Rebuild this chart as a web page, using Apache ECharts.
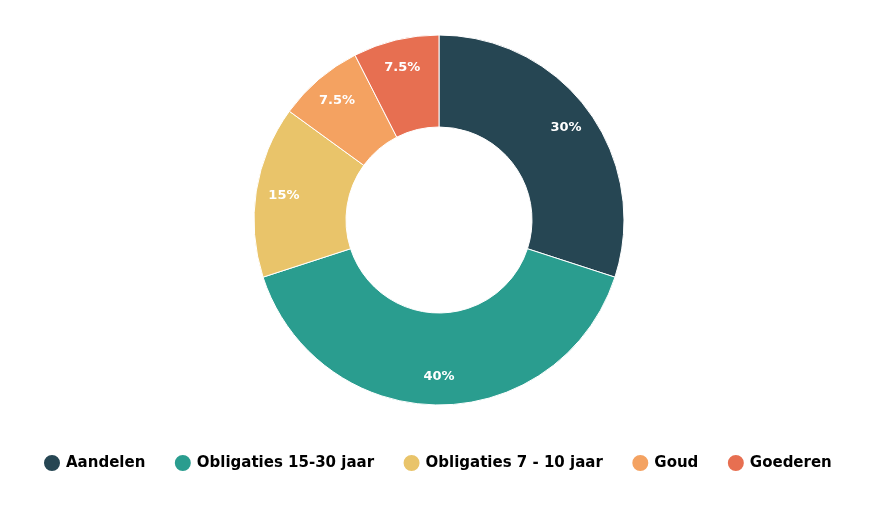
<!DOCTYPE html>
<html><head><meta charset="utf-8">
<script src="https://cdn.jsdelivr.net/npm/echarts@6/dist/echarts.min.js"></script>
<style>html,body{margin:0;padding:0;background:#fff}#c{width:885px;height:508px}</style>
</head><body><div id="c"></div>
<script>
const categories = ['Aandelen', 'Obligaties 15-30 jaar', 'Obligaties 7 - 10 jaar', 'Goud', 'Goederen'];
const values = [30, 40, 15, 7.5, 7.5];
const colors = ['#264653', '#2a9d8f', '#e9c46a', '#f4a261', '#e76f51'];
const FONT = 'DejaVu Sans';

const data = categories.map((n, i) => ({ name: n, value: values[i], itemStyle: { color: colors[i] } }));
const chart = echarts.init(document.getElementById('c'), null, { renderer: 'canvas' });
chart.setOption({
  animation: false,
  legend: {
    bottom: 30,
    left: 37,
    icon: 'circle',
    itemWidth: 18,
    itemHeight: 18,
    itemGap: 27.5,
    textStyle: { fontFamily: FONT, fontWeight: 'bold', fontSize: 15, color: '#000' },
    data: categories
  },
  series: [
    {
      type: 'pie',
      center: [439, 220],
      radius: [93, 185],
      startAngle: 90,
      clockwise: true,
      silent: true,
      itemStyle: { borderColor: '#fff', borderWidth: 1 },
      label: { show: false },
      labelLine: { show: false },
      data: data
    },
    {
      type: 'pie',
      center: [439, 220],
      radius: [123, 185],
      startAngle: 90,
      clockwise: true,
      silent: true,
      itemStyle: { color: 'rgba(0,0,0,0)' },
      label: {
        show: true, position: 'inside', color: '#fff',
        fontFamily: FONT, fontWeight: 'bold', fontSize: 13,
        formatter: p => p.value + '%'
      },
      labelLine: { show: false },
      data: categories.map((n, i) => ({ name: n, value: values[i] }))
    }
  ]
});
</script></body></html>
